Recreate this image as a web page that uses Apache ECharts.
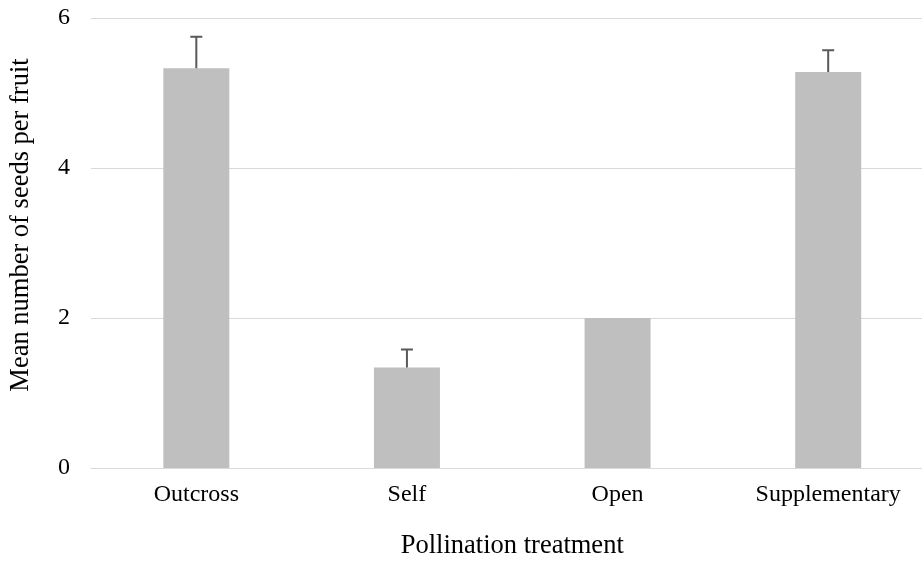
<!DOCTYPE html>
<html>
<head>
<meta charset="utf-8">
<script src="https://cdn.jsdelivr.net/npm/echarts@6/dist/echarts.min.js"></script>
<style>html,body{margin:0;padding:0;background:#fff;overflow:hidden;width:922px;height:565px}#c{position:absolute;left:0;top:0;width:960px;height:565px}</style>
</head>
<body>
<div id="c"></div>
<script>
const categories = ['Outcross', 'Self', 'Open', 'Supplementary'];
const means = [5.33, 1.34, 2.0, 5.28];
const errors = [0.42, 0.24, 0, 0.29];
const yTicks = [0, 2, 4, 6];

const font = '"Liberation Serif", "Times New Roman", serif';
const chart = echarts.init(document.getElementById('c'), null, {renderer: 'canvas'});
chart.setOption({
  animation: false,
  grid: {left: 89.5, top: 18, width: 844, height: 456, containLabel: false},
  xAxis: {
    type: 'category',
    data: categories,
    name: 'Pollination treatment',
    nameLocation: 'middle',
    nameGap: 65,
    nameTextStyle: {fontFamily: font, fontSize: 26.5, color: '#000'},
    axisLine: {lineStyle: {color: '#D9D9D9', width: 1}},
    axisTick: {show: false},
    axisLabel: {fontFamily: font, fontSize: 24, color: '#000', margin: 15}
  },
  yAxis: {
    type: 'value',
    min: yTicks[0],
    max: yTicks[yTicks.length - 1],
    interval: 2,
    name: 'Mean number of seeds per fruit',
    nameLocation: 'middle',
    nameGap: 56,
    nameTextStyle: {fontFamily: font, fontSize: 26.5, color: '#000', padding: [0, 0, 0, 36]},
    axisLine: {show: false},
    axisTick: {show: false},
    splitLine: {lineStyle: {color: '#D9D9D9', width: 1}},
    axisLabel: {fontFamily: font, fontSize: 24, color: '#000', margin: 21}
  },
  series: [
    {
      type: 'bar',
      data: means,
      barWidth: 66,
      itemStyle: {color: '#BFBFBF'},
      z: 2
    },
    {
      type: 'custom',
      z: 3,
      data: means.map((m, i) => [i, m, errors[i]]),
      renderItem: function (params, api) {
        const err = api.value(2);
        if (!err) return null;
        const x = api.value(0);
        const base = api.coord([x, api.value(1)]);
        const top = api.coord([x, api.value(1) + err]);
        const half = 6;
        const style = {stroke: '#595959', lineWidth: 2};
        return {
          type: 'group',
          children: [
            {type: 'line', shape: {x1: base[0], y1: base[1], x2: top[0], y2: top[1]}, style: style},
            {type: 'line', shape: {x1: top[0] - half, y1: top[1], x2: top[0] + half, y2: top[1]}, style: style}
          ]
        };
      }
    }
  ]
});
</script>
</body>
</html>
